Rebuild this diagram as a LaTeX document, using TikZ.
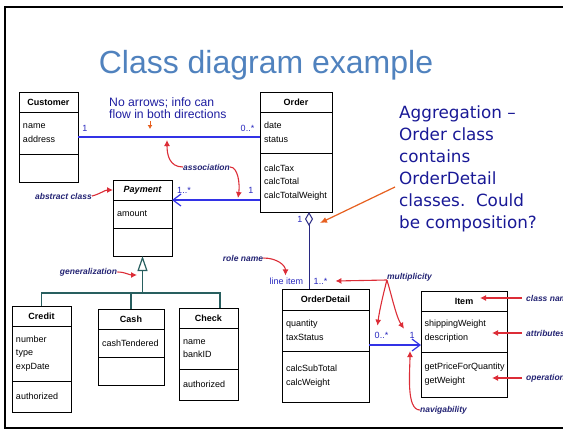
\documentclass[tikz,border=0pt]{standalone}
\usepackage{fontspec}
\setmainfont{Liberation Sans}
\newfontfamily\notefont{DejaVu Sans}
\usepackage{xcolor}
\usetikzlibrary{arrows.meta,positioning}
\definecolor{titleblue}{RGB}{80,130,190}
\definecolor{noteblue}{RGB}{30,30,160}
\definecolor{aggblue}{RGB}{25,25,150}
\definecolor{tagnavy}{RGB}{35,35,115}
\definecolor{multblue}{RGB}{40,40,190}
\definecolor{assocblue}{RGB}{50,50,230}
\definecolor{aggnavy}{RGB}{40,40,130}
\definecolor{genteal}{RGB}{40,95,95}
\definecolor{callred}{RGB}{220,45,55}
\definecolor{callorange}{RGB}{230,95,30}

\tikzset{
  clsname/.style={draw, line width=1pt, outer sep=0pt, inner sep=0pt, minimum height=20pt,
    font=\fontsize{9}{11}\selectfont\bfseries},
  clspart/.style={draw, line width=1pt, outer sep=0pt, inner xsep=4pt, inner ysep=0pt,
    align=left, font=\fontsize{9}{13.7}\selectfont},
  mult/.style={text=multblue, inner sep=0pt, font=\fontsize{9}{11}\selectfont},
  tag/.style={text=tagnavy, inner sep=0pt, font=\fontsize{8.5}{10}\selectfont\bfseries\itshape},
  callout/.style={draw=callred, line width=1.1pt, -{Latex[length=6pt,width=6pt]}},
  assoc/.style={draw=assocblue, line width=1.2pt},
  gen/.style={draw=genteal, line width=1.2pt},
}

\begin{document}
\begin{tikzpicture}[x=1pt,y=-1pt]
\useasboundingbox (0,0) rectangle (563,431);

%slide frame
\draw[line width=2pt] (580,7) -- (5,7) -- (5,428) -- (580,428);

\node[anchor=base, inner sep=0pt, text=titleblue, font=\fontsize{32}{36}\selectfont] (title) at (266,73) {Class diagram example};

%classes
\node[clsname, minimum width=59pt, anchor=north] (cust) at (48.5,92) {Customer};
\node[clspart, text width=51pt, minimum height=42pt, below=0pt of cust] (custA) {name\\address};
\node[clspart, text width=51pt, minimum height=28pt, below=0pt of custA] (custO) {};

\node[clsname, minimum width=72pt, anchor=north] (ord) at (296,92) {Order};
\node[clspart, text width=64pt, minimum height=41pt, below=0pt of ord] (ordA) {date\\status};
\node[clspart, text width=64pt, minimum height=59pt, below=0pt of ordA] (ordO) {calcTax\\calcTotal\\calcTotalWeight};

\node[clsname, minimum width=59pt, anchor=north] (payH) at (142.5,180) {\itshape Payment};
\node[clspart, text width=51pt, minimum height=28pt, below=0pt of payH] (payA) {amount};
\node[clspart, text width=51pt, minimum height=28pt, below=0pt of payA] (payO) {};

\node[clsname, minimum width=59pt, anchor=north] (crH) at (41.5,306) {Credit};
\node[clspart, text width=51pt, minimum height=55pt, below=0pt of crH] (crA) {number\\type\\expDate};
\node[clspart, text width=51pt, minimum height=31pt, below=0pt of crA] (crO) {authorized};

\node[clsname, minimum width=66pt, anchor=north] (cashH) at (131,309) {Cash};
\node[clspart, text width=58pt, minimum height=28pt, below=0pt of cashH] (cashA) {cashTendered};
\node[clspart, text width=58pt, minimum height=28pt, below=0pt of cashA] (cashO) {};

\node[clsname, minimum width=59pt, anchor=north] (chkH) at (208.5,308) {Check};
\node[clspart, text width=51pt, minimum height=41pt, below=0pt of chkH] (chkA) {name\\bankID};
\node[clspart, text width=51pt, minimum height=31pt, below=0pt of chkA] (chkO) {authorized};

\node[clsname, minimum width=87pt, minimum height=21pt, anchor=north] (odH) at (325.5,289) {OrderDetail};
\node[clspart, text width=79pt, minimum height=41pt, below=0pt of odH] (odA) {quantity\\taxStatus};
\node[clspart, text width=79pt, minimum height=51pt, below=0pt of odA] (odO) {calcSubTotal\\calcWeight};

\node[clsname, minimum width=86pt, anchor=north] (itH) at (464,291) {Item};
\node[clspart, inner xsep=3.5pt, text width=79pt, minimum height=41pt, below=0pt of itH] (itA) {shippingWeight\\description};
\node[clspart, inner xsep=3.5pt, text width=79pt, minimum height=45pt, below=0pt of itA] (itO) {getPriceForQuantity\\getWeight};

%relations
\draw[assoc] ([yshift=-4pt]custA.east) -- ([yshift=-4pt]custA.east -| ordA.west);
\draw[assoc, -{Straight Barb[length=8pt,width=12pt]}] (ordO.west |- payH.south) -- (payH.south east);
\draw[draw=aggnavy, line width=1pt, {Diamond[open,length=14pt,width=8pt]}-] ([xshift=13pt]ordO.south) -- ([xshift=13pt]ordO.south |- odH.north);
\draw[assoc, -{Straight Barb[length=8pt,width=12pt]}] ([yshift=-14.5pt]odA.east) -- ([yshift=-14.5pt]odA.east -| itA.west);

\coordinate (genj) at (payO.south |- 0,293);
\draw[gen] (crH.north) |- (genj) -| ([xshift=11.5pt]chkH.north);
\draw[gen] (cashH.north) -- (cashH.north |- genj);
\draw[gen, -{Triangle[open,length=15pt,width=10pt]}] (genj) -- (payO.south);

%multiplicities and role
\node[mult] (m1) at (85,128) {1};
\node[mult] (m2) at (247.5,128) {0..*};
\node[mult] (m3) at (184,190) {1..*};
\node[mult] (m4) at (251,190) {1};
\node[mult] (m5) at (300,219) {1};
\node[mult] (litem) at (286.5,281) {line item};
\node[mult] (m6) at (320.5,281) {1..*};
\node[mult] (m7) at (381.5,335) {0..*};
\node[mult] (m8) at (412,335) {1};

%notes
\node[anchor=base west, inner sep=0pt, align=left, text=noteblue, font=\fontsize{12.2}{12}\selectfont] (noarr) at (109,118) {No arrows; info can\\flow in both directions};
\coordinate (noarrtip) at (150,129);
\draw[draw=callorange, line width=1pt, -{Latex[length=4pt,width=5pt]}] (noarrtip |- 0,121) -- (noarrtip);

\node[anchor=base west, inner sep=0pt, align=left, text=aggblue, font=\notefont\fontsize{16.8}{22}\selectfont] (aggnote) at (399,228.3) {Aggregation –\\Order class\\contains\\OrderDetail\\classes.\ \ Could\\be composition?};
\coordinate (aggtip) at (320,223);
\draw[draw=callorange, line width=1.2pt, -{Latex[length=7pt,width=6pt]}] (395,187) -- (aggtip);

%callout tags
\node[tag, anchor=east] (tabs) at (92,196) {abstract class};
\draw[callout] (tabs.east) .. controls +(8,-2) and +(-8,0) .. (payH.west);

\node[tag] (tassoc) at (206.5,167) {association};
\coordinate (assocA) at (167,140);
\coordinate (assocB) at (238,198);
\draw[callout] (tassoc.west) .. controls +(-14,0) and +(0,14) .. (assocA);
\draw[callout] (tassoc.east) .. controls +(8,0) and +(2,-14) .. (assocB);

\node[tag] (tgen) at (88.5,272) {generalization};
\coordinate (genB) at (137,275);
\draw[callout] (tgen.east) .. controls +(8,0) and +(-8,0) .. (genB);

\node[tag] (trole) at (243,258) {role name};
\draw[callout] (trole.east) .. controls +(14,0) and +(0,-10) .. ([xshift=-1pt,yshift=2pt]litem.north);

\node[tag] (tmult) at (409.5,277) {multiplicity};
\coordinate (mfork) at ([yshift=-3pt]tmult.west);
\draw[callout] (mfork) -- ([xshift=8pt]m6.east);
\draw[callout] (mfork) .. controls +(-3,12) and +(2,-16) .. ([xshift=-4pt,yshift=6pt]m7.north);
\draw[callout] (mfork) .. controls +(4,12) and +(-8,-12) .. ([xshift=-8pt,yshift=3pt]m8.north);

\node[tag] (tnav) at (443.5,410) {navigability};
\coordinate (navB) at (410,351);
\draw[callout] (tnav.west) .. controls +(-14,0) and +(0,20) .. (navB);

\node[tag, anchor=west] (tcls) at (526,298) {class name};
\node[tag, anchor=west] (tattr) at (526,333) {attributes};
\node[tag, anchor=west] (tops) at (526,378) {operations};
\coordinate (pcls) at (480,298);
\coordinate (pattr) at (492,333);
\coordinate (pops) at (492,378);
\draw[callout] ([xshift=-4pt]tcls.west) -- (pcls);
\draw[callout] ([xshift=-4pt]tattr.west) -- (pattr);
\draw[callout] ([xshift=-4pt]tops.west) -- (pops);
\end{tikzpicture}
\end{document}
